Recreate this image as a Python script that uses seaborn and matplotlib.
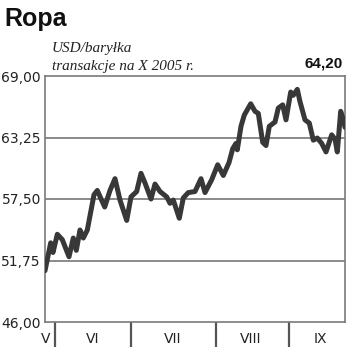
import matplotlib
matplotlib.use("Agg")
import matplotlib.pyplot as plt
import seaborn as sns
import pandas as pd

# ---- data ----
# x = position along the time axis (0 = start of the plotted period), y = USD per barrel
day_pos = [0, 5.7, 8, 12.3, 17.3, 24, 28.3, 31.3, 35, 38.3, 42.3, 49, 52.3, 59.7, 65, 70,
           75, 81.7, 86, 91.7, 96, 100, 106, 110, 115, 121.7, 125, 128.3, 134.3, 138.3,
           143.3, 150, 156, 160, 166.7, 172.7, 178.3, 184, 187.7, 191, 192.3, 196, 199.3,
           205.7, 210, 213.3, 217.7, 221, 224.3, 230, 233.3, 237.7, 241, 245.7, 248.3,
           252.3, 255, 260, 264.3, 268.3, 272.3, 276.7, 281, 286.7, 290, 292.3, 295.7,
           299, 300]
price = [50.8, 53.4, 52.5, 54.2, 53.7, 52.1, 53.85, 52.7, 54.6, 53.85, 54.6, 57.9, 58.3,
         56.75, 58.3, 59.4, 57.4, 55.5, 57.7, 58.2, 59.9, 59.0, 57.5, 58.9, 58.2, 57.7,
         57.1, 57.4, 55.7, 57.6, 58.1, 58.2, 59.4, 58.1, 59.3, 60.7, 59.7, 60.9, 62.2,
         62.7, 62.1, 64.3, 65.35, 66.4, 65.7, 65.5, 62.8, 62.5, 64.3, 64.7, 66.0, 66.3,
         64.9, 67.5, 67.2, 67.75, 66.6, 64.9, 64.6, 63.0, 63.2, 62.7, 61.9, 63.5, 63.1,
         61.9, 65.7, 64.7, 64.2]
month_labels = ["V", "VI", "VII", "VIII", "IX"]
month_centers = [1, 48, 128, 206, 275]
month_bounds = [10, 86, 171, 244]
y_ticks = [46.00, 51.75, 57.50, 63.25, 69.00]
last_value = "64,20"
title = "Ropa"
subtitle = ["USD/baryłka", "transakcje na X 2005 r."]

df = pd.DataFrame({"x": day_pos, "y": price})

sns.set_style("white")
plt.rcParams["font.family"] = ["DejaVu Sans"]

fig = plt.figure(figsize=(3.5, 3.55), dpi=100)
ax = fig.add_axes([45 / 350, 1 - 322 / 355, 300 / 350, 246 / 355])

for v in y_ticks[1:-1]:
    ax.axhline(v, color="#8a8a8a", lw=1.4, zorder=1)

sns.lineplot(data=df, x="x", y="y", ax=ax, color="#383838", lw=3.6, zorder=3)

ax.set_xlim(0, 300)
ax.set_ylim(46, 69)
ax.set_xlabel("")
ax.set_ylabel("")

ax.set_yticks(y_ticks)
ax.set_yticklabels([f"{v:.2f}".replace(".", ",") for v in y_ticks], fontsize=10, color="#222222")
ax.tick_params(axis="y", length=0, pad=3)

ax.set_xticks(month_bounds)
ax.set_xticklabels([])
ax.tick_params(axis="x", which="major", bottom=True, direction="out", length=18,
               width=1.6, color="#555555")
ax.set_xticks(month_centers, minor=True)
ax.set_xticklabels(month_labels, minor=True, fontsize=10, color="#222222")
ax.tick_params(axis="x", which="minor", bottom=True, length=0, pad=7)

for s in ax.spines.values():
    s.set_visible(True)
    s.set_color("#7a7a7a")
    s.set_linewidth(1.2)

fig.text(4 / 350, 1 - 26 / 355, title, fontsize=18, fontweight="bold",
         family=["Liberation Sans"], color="#111111", va="baseline", ha="left")
fig.text(52 / 350, 1 - 52 / 355, subtitle[0], fontsize=11, style="italic",
         family=["Liberation Serif"], color="#222222", va="baseline", ha="left")
fig.text(52 / 350, 1 - 70 / 355, subtitle[1], fontsize=11, style="italic",
         family=["Liberation Serif"], color="#222222", va="baseline", ha="left")
fig.text(343 / 350, 1 - 68 / 355, last_value, fontsize=11, fontweight="bold",
         family=["Liberation Sans"], color="#111111", va="baseline", ha="right")

fig.savefig("out.png", dpi=100)
